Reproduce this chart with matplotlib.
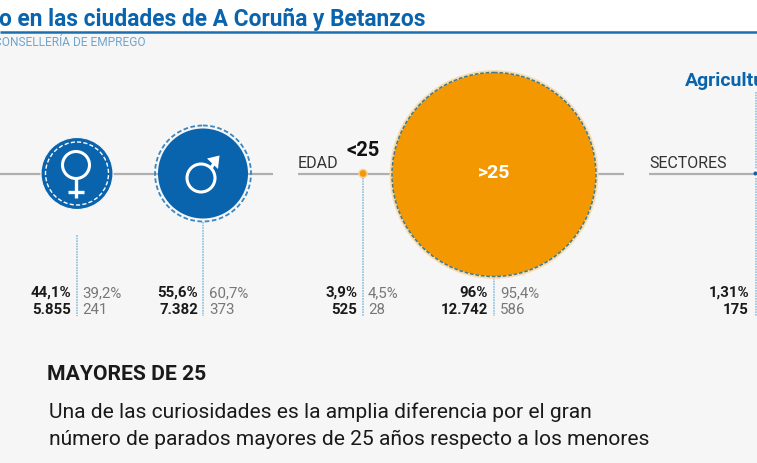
import matplotlib
matplotlib.use("Agg")
import matplotlib.pyplot as plt
from matplotlib.patches import Circle, Rectangle, Polygon

title_text = "o en las ciudades de A Coruña y Betanzos"
source_text = "CONSELLERÍA DE EMPREGO"
heading_text = "MAYORES DE 25"
body_lines = ["Una de las curiosidades es la amplia diferencia por el gran",
              "número de parados mayores de 25 años respecto a los menores"]
categories = ["Mujeres", "Hombres", "<25", ">25", "Agricultura"]
pct_main = ["44,1%", "55,6%", "3,9%", "96%", "1,31%"]
count_main = ["5.855", "7.382", "525", "12.742", "175"]
pct_sub = ["39,2%", "60,7%", "4,5%", "95,4%", ""]
count_sub = ["241", "373", "28", "586", ""]
group_labels = ["EDAD", "SECTORES"]

# layout (pixel space)
centers_x = [77, 203, 363, 494, 755.5]
radii = [36, 45, 4, 102, 2]
stem_top = [235, 222, 178, 278, 178]
label_right = [71, 198, 357, 488, 749]
label_left = [82, 209, 368, 500, 0]
AXIS_Y = 173.5
FONT = "Roboto"

BLUE = "#0a64ad"
ORANGE = "#f39800"
GREY = "#b0b0b0"
PALE = "#8dbfe0"
BG = "#f6f6f6"

fig = plt.figure(figsize=(7.57, 4.63), dpi=100, facecolor="white")
ax = fig.add_axes([0, 0, 1, 1])
ax.set_xlim(0, 757)
ax.set_ylim(463, 0)
ax.axis("off")

ax.add_patch(Rectangle((0, 32), 757, 431, fc=BG, ec="none", zorder=0))
ax.plot([0, 757], [32, 32], color="#1a6fb3", lw=1.8, zorder=1, solid_capstyle="butt")
ax.text(-1, 19, title_text, fontfamily=FONT, fontweight="bold", fontsize=16.4, color=BLUE, ha="left", va="center")
ax.text(146, 43, source_text, fontfamily=FONT, fontsize=8.6, color="#6fa6cf", ha="right", va="center")

# axis lines
for x0, x1 in [(0, 273), (298, 624), (649, 755)]:
    ax.plot([x0, x1], [AXIS_Y, AXIS_Y], color=GREY, lw=1.6, zorder=1, solid_capstyle="butt")

# dotted stems
for x, y0 in zip(centers_x, stem_top):
    ax.plot([x, x], [y0, 316], color=PALE, lw=1.2, ls=(0, (1, 0.6)), zorder=1)
ax.plot([755.5, 755.5], [92, 169], color=PALE, lw=1.2, ls=(0, (1, 0.6)), zorder=1)

# women
ax.add_patch(Circle((centers_x[0], AXIS_Y), radii[0], fc=BLUE, ec=BG, lw=0.8, zorder=3))
ax.add_patch(Circle((centers_x[0], AXIS_Y), radii[0] - 4.5, fc="none", ec="white", lw=1, ls=(0, (3, 1.6)), zorder=4))
ax.add_patch(Circle((76, 165), 13.5, fc="none", ec="white", lw=2.2, zorder=4))
ax.plot([76, 76], [179, 198], color="white", lw=2.4, zorder=4, solid_capstyle="butt")
ax.plot([68, 84], [192, 192], color="white", lw=2.4, zorder=4, solid_capstyle="butt")

# men
ax.add_patch(Circle((centers_x[1], AXIS_Y), radii[1], fc=BLUE, ec="none", zorder=3))
ax.add_patch(Circle((centers_x[1], AXIS_Y), radii[1] + 3, fc="none", ec="#3a86c0", lw=1.3, ls=(0, (2.6, 1.4)), zorder=3))
ax.add_patch(Circle((201, 178), 14, fc="none", ec="white", lw=2.2, zorder=4))
ax.plot([211, 217], [168, 159], color="white", lw=2.4, zorder=4, solid_capstyle="butt")
ax.add_patch(Polygon([(219.5, 155.5), (207, 158.5), (218, 169)], fc="white", ec="none", zorder=4))

# ages
ax.add_patch(Circle((centers_x[2], AXIS_Y), radii[2], fc=ORANGE, ec="#f7cf8f", lw=1, zorder=3))
ax.add_patch(Circle((centers_x[3], 174.5), radii[3] + 1, fc=ORANGE, ec="#f8dcae", lw=2, zorder=3))
ax.add_patch(Circle((centers_x[3], 174.5), radii[3], fc="none", ec="#3f7a90", lw=1.1, ls=(0, (2.4, 1.2)), zorder=4))
ax.text(centers_x[3], 173, categories[3], fontfamily=FONT, fontweight="bold", fontsize=14, color="white", ha="center", va="center", zorder=5)
ax.text(363.5, 151, categories[2], fontfamily=FONT, fontweight="bold", fontsize=14.5, color="#111111", ha="center", va="center", zorder=5)

# sector marker
ax.add_patch(Circle((centers_x[4], AXIS_Y), radii[4], fc=BLUE, ec="none", zorder=3))
ax.text(685, 81, categories[4], fontfamily=FONT, fontweight="bold", fontsize=14, color=BLUE, ha="left", va="center")

ax.text(298, 163.5, group_labels[0], fontfamily=FONT, fontsize=11.5, color="#333333", ha="left", va="center")
ax.text(649, 163.5, group_labels[1], fontfamily=FONT, fontsize=11.5, color="#333333", ha="left", va="center")

# numbers
for i in range(5):
    ax.text(label_right[i], 293, pct_main[i], fontfamily=FONT, fontweight="bold", fontsize=10.8, color="#1a1a1a", ha="right", va="center")
    ax.text(label_right[i], 310.5, count_main[i], fontfamily=FONT, fontweight="bold", fontsize=10.8, color="#1a1a1a", ha="right", va="center")
    if pct_sub[i]:
        ax.text(label_left[i], 293, pct_sub[i], fontfamily=FONT, fontsize=10.8, color="#777777", ha="left", va="center")
        ax.text(label_left[i], 310.5, count_sub[i], fontfamily=FONT, fontsize=10.8, color="#777777", ha="left", va="center")

ax.text(47, 375, heading_text, fontfamily=FONT, fontweight="bold", fontsize=15.2, color="#1a1a1a", ha="left", va="center")
ax.text(49, 412, body_lines[0], fontfamily=FONT, fontsize=15.1, color="#1a1a1a", ha="left", va="center")
ax.text(49, 439, body_lines[1], fontfamily=FONT, fontsize=15.1, color="#1a1a1a", ha="left", va="center")

fig.savefig("out.png", dpi=100, facecolor=fig.get_facecolor())
